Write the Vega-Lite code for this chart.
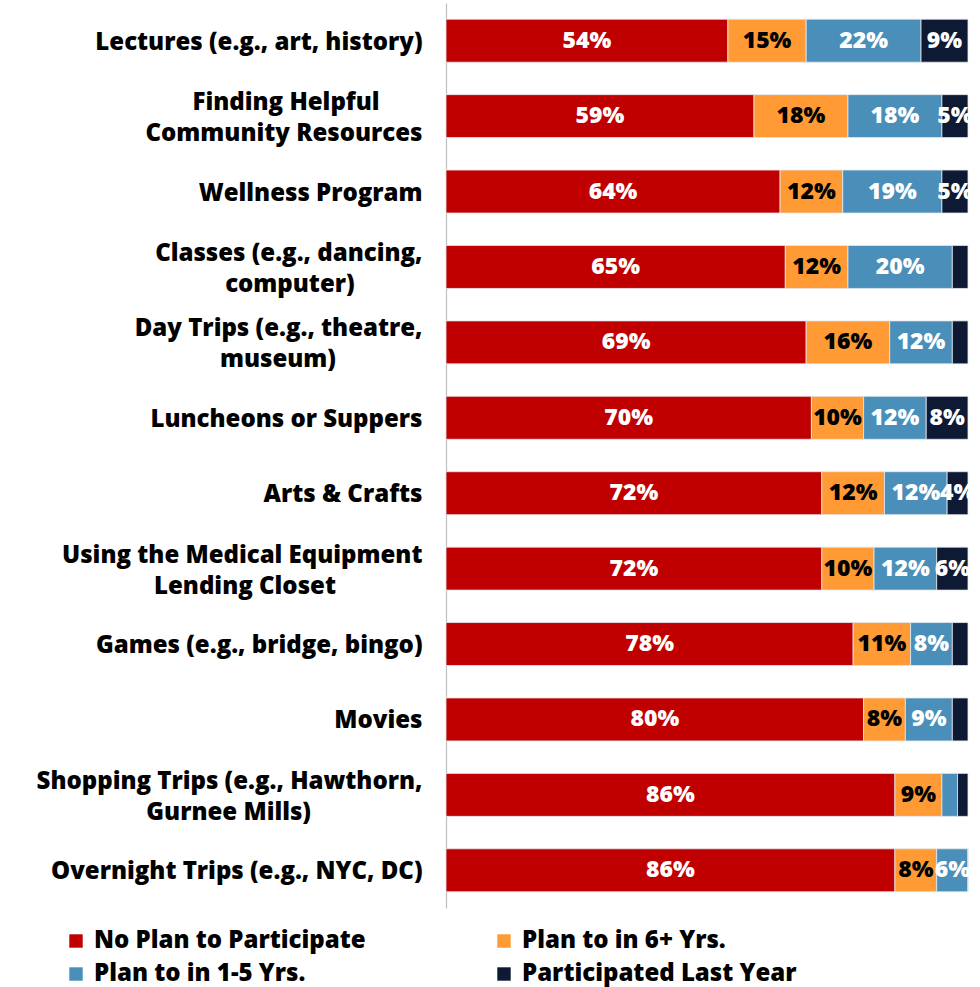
{
  "$schema": "https://vega.github.io/schema/vega-lite/v6.json",
  "autosize": {"type": "none"},
  "width": 522,
  "height": 905,
  "padding": {"left": 446, "top": 3, "right": 12, "bottom": 79},
  "background": "white",
  "config": {"view": {"stroke": null}, "font": "Open Sans"},
  "data": {"values": [
    {"cat": "Lectures (e.g., art, history)", "rank": 1, "series": "No Plan to Participate", "s": 1, "value": 54},
    {"cat": "Lectures (e.g., art, history)", "rank": 1, "series": "Plan to in 6+ Yrs.", "s": 2, "value": 15},
    {"cat": "Lectures (e.g., art, history)", "rank": 1, "series": "Plan to in 1-5 Yrs.", "s": 3, "value": 22},
    {"cat": "Lectures (e.g., art, history)", "rank": 1, "series": "Participated Last Year", "s": 4, "value": 9},
    {"cat": "Finding Helpful|Community Resources", "rank": 2, "series": "No Plan to Participate", "s": 1, "value": 59},
    {"cat": "Finding Helpful|Community Resources", "rank": 2, "series": "Plan to in 6+ Yrs.", "s": 2, "value": 18},
    {"cat": "Finding Helpful|Community Resources", "rank": 2, "series": "Plan to in 1-5 Yrs.", "s": 3, "value": 18},
    {"cat": "Finding Helpful|Community Resources", "rank": 2, "series": "Participated Last Year", "s": 4, "value": 5},
    {"cat": "Wellness Program", "rank": 3, "series": "No Plan to Participate", "s": 1, "value": 64},
    {"cat": "Wellness Program", "rank": 3, "series": "Plan to in 6+ Yrs.", "s": 2, "value": 12},
    {"cat": "Wellness Program", "rank": 3, "series": "Plan to in 1-5 Yrs.", "s": 3, "value": 19},
    {"cat": "Wellness Program", "rank": 3, "series": "Participated Last Year", "s": 4, "value": 5},
    {"cat": "Classes (e.g., dancing,|computer)", "rank": 4, "series": "No Plan to Participate", "s": 1, "value": 65},
    {"cat": "Classes (e.g., dancing,|computer)", "rank": 4, "series": "Plan to in 6+ Yrs.", "s": 2, "value": 12},
    {"cat": "Classes (e.g., dancing,|computer)", "rank": 4, "series": "Plan to in 1-5 Yrs.", "s": 3, "value": 20},
    {"cat": "Classes (e.g., dancing,|computer)", "rank": 4, "series": "Participated Last Year", "s": 4, "value": 3},
    {"cat": "Day Trips (e.g., theatre,|museum)", "rank": 5, "series": "No Plan to Participate", "s": 1, "value": 69},
    {"cat": "Day Trips (e.g., theatre,|museum)", "rank": 5, "series": "Plan to in 6+ Yrs.", "s": 2, "value": 16},
    {"cat": "Day Trips (e.g., theatre,|museum)", "rank": 5, "series": "Plan to in 1-5 Yrs.", "s": 3, "value": 12},
    {"cat": "Day Trips (e.g., theatre,|museum)", "rank": 5, "series": "Participated Last Year", "s": 4, "value": 3},
    {"cat": "Luncheons or Suppers", "rank": 6, "series": "No Plan to Participate", "s": 1, "value": 70},
    {"cat": "Luncheons or Suppers", "rank": 6, "series": "Plan to in 6+ Yrs.", "s": 2, "value": 10},
    {"cat": "Luncheons or Suppers", "rank": 6, "series": "Plan to in 1-5 Yrs.", "s": 3, "value": 12},
    {"cat": "Luncheons or Suppers", "rank": 6, "series": "Participated Last Year", "s": 4, "value": 8},
    {"cat": "Arts & Crafts", "rank": 7, "series": "No Plan to Participate", "s": 1, "value": 72},
    {"cat": "Arts & Crafts", "rank": 7, "series": "Plan to in 6+ Yrs.", "s": 2, "value": 12},
    {"cat": "Arts & Crafts", "rank": 7, "series": "Plan to in 1-5 Yrs.", "s": 3, "value": 12},
    {"cat": "Arts & Crafts", "rank": 7, "series": "Participated Last Year", "s": 4, "value": 4},
    {"cat": "Using the Medical Equipment|Lending Closet", "rank": 8, "series": "No Plan to Participate", "s": 1, "value": 72},
    {"cat": "Using the Medical Equipment|Lending Closet", "rank": 8, "series": "Plan to in 6+ Yrs.", "s": 2, "value": 10},
    {"cat": "Using the Medical Equipment|Lending Closet", "rank": 8, "series": "Plan to in 1-5 Yrs.", "s": 3, "value": 12},
    {"cat": "Using the Medical Equipment|Lending Closet", "rank": 8, "series": "Participated Last Year", "s": 4, "value": 6},
    {"cat": "Games (e.g., bridge, bingo)", "rank": 9, "series": "No Plan to Participate", "s": 1, "value": 78},
    {"cat": "Games (e.g., bridge, bingo)", "rank": 9, "series": "Plan to in 6+ Yrs.", "s": 2, "value": 11},
    {"cat": "Games (e.g., bridge, bingo)", "rank": 9, "series": "Plan to in 1-5 Yrs.", "s": 3, "value": 8},
    {"cat": "Games (e.g., bridge, bingo)", "rank": 9, "series": "Participated Last Year", "s": 4, "value": 3},
    {"cat": "Movies", "rank": 10, "series": "No Plan to Participate", "s": 1, "value": 80},
    {"cat": "Movies", "rank": 10, "series": "Plan to in 6+ Yrs.", "s": 2, "value": 8},
    {"cat": "Movies", "rank": 10, "series": "Plan to in 1-5 Yrs.", "s": 3, "value": 9},
    {"cat": "Movies", "rank": 10, "series": "Participated Last Year", "s": 4, "value": 3},
    {"cat": "Shopping Trips (e.g., Hawthorn,|Gurnee Mills)", "rank": 11, "series": "No Plan to Participate", "s": 1, "value": 86},
    {"cat": "Shopping Trips (e.g., Hawthorn,|Gurnee Mills)", "rank": 11, "series": "Plan to in 6+ Yrs.", "s": 2, "value": 9},
    {"cat": "Shopping Trips (e.g., Hawthorn,|Gurnee Mills)", "rank": 11, "series": "Plan to in 1-5 Yrs.", "s": 3, "value": 3},
    {"cat": "Shopping Trips (e.g., Hawthorn,|Gurnee Mills)", "rank": 11, "series": "Participated Last Year", "s": 4, "value": 2},
    {"cat": "Overnight Trips (e.g., NYC, DC)", "rank": 12, "series": "No Plan to Participate", "s": 1, "value": 86},
    {"cat": "Overnight Trips (e.g., NYC, DC)", "rank": 12, "series": "Plan to in 6+ Yrs.", "s": 2, "value": 8},
    {"cat": "Overnight Trips (e.g., NYC, DC)", "rank": 12, "series": "Plan to in 1-5 Yrs.", "s": 3, "value": 6},
    {"cat": "Overnight Trips (e.g., NYC, DC)", "rank": 12, "series": "Participated Last Year", "s": 4, "value": 0}
  ]},
  "transform": [
    {"stack": "value", "groupby": ["cat"], "sort": [{"field": "s"}], "as": ["v0", "v1"]},
    {"calculate": "(datum.v0 + datum.v1) / 2", "as": "mid"},
    {"calculate": "datum.value + '%'", "as": "pct"}
  ],
  "encoding": {
    "y": {
      "field": "cat", "type": "nominal",
      "sort": {"field": "rank", "op": "min", "order": "ascending"},
      "scale": {"paddingInner": 0.43, "paddingOuter": 0.215},
      "axis": {
        "title": null, "ticks": false, "domain": true, "domainColor": "#bfbfbf", "domainWidth": 1.2,
        "labelFont": "Open Sans", "labelFontWeight": 800, "labelFontSize": 24, "labelColor": "#000000",
        "labelPadding": 24, "labelLimit": 0, "labelLineHeight": 31,
        "labelOffset": {"condition": {"test": "indexof(datum.value,'|')>=0", "value": -13}, "value": 2},
        "labelExpr": "datum.value == 'Finding Helpful|Community Resources' ? ['Finding Helpful' + pad('', 4, '\u00a0') + '\u2800', 'Community Resources'] : indexof(datum.value,'|') < 0 ? datum.value : [split(datum.value,'|')[0], split(datum.value,'|')[1] + pad('', datum.value == 'Classes (e.g., dancing,|computer)' ? 8 : datum.value == 'Shopping Trips (e.g., Hawthorn,|Gurnee Mills)' ? 15 : 11, '\u00a0') + '\u2800']"
      }
    }
  },
  "layer": [
    {
      "mark": {"type": "bar", "stroke": "#e4e8ee", "strokeWidth": 0.8},
      "encoding": {
        "x": {"field": "v0", "type": "quantitative", "scale": {"domain": [0, 100]}, "axis": null},
        "x2": {"field": "v1"},
        "color": {
          "field": "series", "type": "nominal",
          "scale": {
            "domain": ["No Plan to Participate", "Plan to in 1-5 Yrs.", "Plan to in 6+ Yrs.", "Participated Last Year"],
            "range": ["#C00000", "#4A8FB9", "#FF9A35", "#0E1A33"]
          },
          "legend": {
            "title": null, "orient": "none", "legendX": -382, "legendY": 926,
            "columns": 2, "columnPadding": 126, "rowPadding": 9,
            "symbolType": "square", "symbolSize": 180, "symbolStrokeWidth": 0,
            "labelFont": "Open Sans", "labelFontWeight": 800, "labelFontSize": 24, "labelColor": "#000000",
            "labelOffset": 6, "labelLimit": 0
          }
        }
      }
    },
    {
      "transform": [{"filter": "datum.value >= 4"}],
      "mark": {"type": "text", "font": "Open Sans", "fontWeight": 800, "fontSize": 23, "baseline": "middle", "align": "center"},
      "encoding": {
        "x": {"field": "mid", "type": "quantitative"},
        "text": {"field": "pct", "type": "nominal"},
        "color": {
          "condition": {"test": "datum.s == 2", "value": "#000000"},
          "value": "#ffffff"
        }
      }
    }
  ]
}
